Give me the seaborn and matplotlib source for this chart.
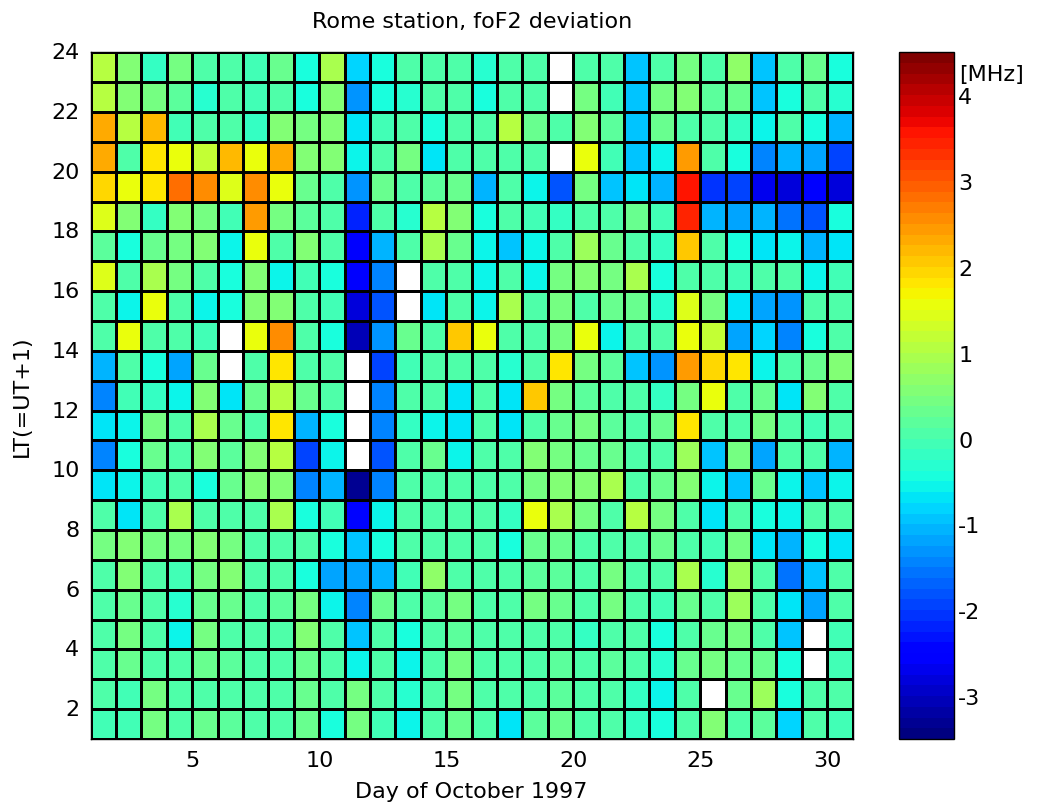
import numpy as np
import pandas as pd
import matplotlib
matplotlib.use("Agg")
import matplotlib.pyplot as plt
import seaborn as sns

nan = np.nan

# days (left edge of each cell) and local time rows, top row first
days = list(range(1, 31))
lt_hours = list(range(23, 0, -1))

x_ticks = [5, 10, 15, 20, 25, 30]
y_ticks = [2, 4, 6, 8, 10, 12, 14, 16, 18, 20, 22, 24]
cbar_ticks = [-3, -2, -1, 0, 1, 2, 3, 4]

# foF2 deviation [MHz], one list per LT hour (days 1..30), nan = missing
lt23 = [1.0, 0.5, -0.2, 0.4, 0.0, 0.0, -0.1, 0.3, -0.5, 0.9, -0.8, -0.5, 0.0, 0.0, 0.0, -0.3, 0.0, 0.0, nan, 0.1, 0.0, -0.9, 0.0, 0.4, 0.1, 0.7, -0.9, 0.0, 0.3, -0.5]
lt22 = [1.0, 0.5, 0.4, 0.2, -0.3, 0.0, -0.1, 0.0, -0.5, 0.6, -1.3, -0.5, -0.3, 0.0, 0.0, -0.5, 0.0, 0.1, nan, 0.4, -0.1, -1.0, 0.4, 0.6, 0.2, 0.3, -0.9, -0.5, 0.0, -0.3]
lt21 = [2.3, 1.0, 2.2, -0.1, 0.1, 0.0, -0.2, 0.5, 0.4, 0.5, -0.7, -0.1, 0.0, -0.5, 0.1, 0.0, 1.0, 0.3, 0.0, 0.5, 0.2, -1.0, 0.3, 0.0, 0.1, -0.2, -0.6, 0.0, -0.4, -1.1]
lt20 = [2.3, 0.0, 1.8, 1.6, 1.2, 2.2, 1.6, 2.3, 0.5, 0.5, -0.6, 0.0, 0.4, -0.7, 0.1, 0.0, 0.0, 0.0, nan, 1.6, -0.1, -1.0, -0.6, 2.4, 0.0, -0.5, -1.4, -1.1, -1.2, -1.9]
lt19 = [1.9, 1.5, 1.8, 2.8, 2.5, 1.4, 2.5, 1.5, 0.3, 0.1, -1.3, 0.3, 0.1, 0.2, 0.3, -1.1, 0.0, -0.6, -1.8, 0.4, -0.9, -0.7, -1.1, 3.6, -2.1, -2.0, -2.7, -2.8, -2.6, -2.8]
lt18 = [1.4, 0.5, -0.2, 0.6, 0.4, -0.1, 2.4, 0.4, 0.2, 0.1, -2.2, 0.1, -0.3, 1.0, 0.6, -0.4, 0.0, -0.1, -0.2, 0.1, 0.1, 0.3, -0.1, 3.4, -1.1, -1.2, -1.1, -1.6, -1.8, -0.5]
lt17 = [0.2, -0.5, 0.3, 0.4, 0.5, -0.6, 1.6, 0.1, 0.5, 0.1, -2.6, -1.1, 0.0, 0.9, 0.3, -0.6, -0.9, -0.6, 0.1, 0.8, 0.3, 0.1, -0.2, 2.0, 0.0, -0.5, -0.7, -0.6, -1.1, -0.7]
lt16 = [1.4, 0.0, 0.9, 0.4, 0.0, -0.5, 0.6, -0.6, -0.1, -0.4, -2.6, -1.5, nan, 0.1, 0.0, -0.6, 0.0, -0.6, 0.4, 0.6, 0.4, 0.9, -0.5, 0.1, 0.0, -0.1, 0.0, 0.1, -0.6, -0.1]
lt15 = [0.0, -0.6, 1.5, 0.1, -0.6, -0.4, 0.5, 0.5, 0.0, -0.1, -2.8, -1.8, nan, -0.7, 0.1, -0.6, 0.9, 0.1, 0.4, 0.1, 0.3, 0.3, -0.3, 1.4, 0.4, -0.7, -1.2, -1.3, 0.0, 0.0]
lt14 = [0.0, 1.5, 0.1, 0.0, -0.1, nan, 1.5, 2.6, 0.0, -0.5, -3.1, -1.3, 0.3, 0.0, 2.0, 1.5, 0.1, 0.0, 0.4, 1.5, -0.6, 0.0, 0.0, 1.5, 1.2, -1.2, -0.8, -1.5, -0.5, 0.1]
lt13 = [-1.1, 0.0, -0.4, -1.2, 0.3, nan, 0.1, 1.8, 0.1, 0.0, nan, -2.0, -0.1, 0.0, 0.0, 0.0, -0.3, 0.1, 1.8, 0.4, 0.2, -0.9, -1.3, 2.4, 1.9, 1.8, -0.6, 0.0, 0.3, 0.5]
lt12 = [-1.4, -0.1, -0.2, -0.6, 0.5, -0.7, 0.3, 1.0, 0.3, 0.1, nan, -1.4, 0.0, 0.0, -0.7, 0.0, -0.7, 2.0, 0.4, 0.2, 0.1, 0.0, -0.2, 0.4, 1.5, 0.1, 0.3, -0.7, 0.5, 0.1]
lt11 = [-0.7, -0.6, 0.4, 0.0, 0.9, 0.3, 0.1, 1.8, -1.1, -0.5, nan, -1.4, -0.2, -0.6, -0.7, 0.1, -0.7, 0.1, 0.3, 0.4, 0.2, 0.1, 0.3, 1.8, 0.1, 0.0, 0.4, 0.0, -0.1, 0.0]
lt10 = [-1.5, -0.4, 0.3, 0.1, 0.5, 0.2, 0.6, 1.0, -2.0, -0.6, nan, -1.8, 0.0, 0.3, -0.6, 0.1, 0.1, 0.5, 0.4, 0.3, 0.3, 0.1, 0.1, 0.8, -1.0, 0.4, -1.2, 0.0, 0.0, -1.1]
lt09 = [-0.7, -0.6, -0.1, 0.0, -0.5, 0.3, 0.5, 0.6, -1.4, -1.1, -3.3, -1.4, 0.0, 0.0, 0.0, 0.0, 0.0, 0.4, 0.5, 0.5, 0.9, 0.1, 0.3, 0.6, -0.6, -1.0, 0.3, -0.6, -0.9, -0.6]
lt08 = [0.0, -0.7, 0.1, 0.9, 0.0, 0.1, 0.0, 0.9, -0.5, -0.1, -2.4, -0.6, 0.1, 0.1, 0.0, 0.1, -0.2, 1.5, 0.9, 0.4, 0.1, 1.0, 0.4, 0.1, -0.7, 0.0, -0.5, -0.6, 0.1, 0.0]
lt07 = [0.4, 0.5, 0.4, 0.4, 0.6, 0.4, 0.1, 0.1, 0.0, -0.5, -1.0, -0.4, 0.0, 0.1, 0.1, 0.1, -0.5, 0.3, 0.3, 0.0, 0.1, 0.1, 0.3, 0.1, -0.1, 0.4, -0.7, -1.1, -0.5, -0.7]
lt06 = [0.1, 0.6, 0.1, -0.1, 0.4, 0.5, 0.1, 0.1, -0.5, -1.2, -1.2, -1.1, -0.1, 0.7, 0.1, 0.0, 0.0, 0.2, 0.2, 0.0, 0.4, 0.1, 0.0, 0.9, -0.3, 0.8, 0.0, -1.6, -1.0, 0.0]
lt05 = [0.0, 0.3, 0.1, -0.3, 0.3, 0.3, 0.1, 0.2, 0.4, -0.6, -1.5, 0.3, 0.0, 0.2, 0.4, 0.1, 0.0, 0.4, 0.3, 0.1, 0.4, 0.1, -0.1, 0.3, 0.1, 0.8, 0.0, -0.7, -1.2, 0.0]
lt04 = [0.1, 0.4, 0.1, -0.6, 0.4, 0.1, 0.1, 0.1, 0.6, 0.1, -0.9, 0.1, -0.5, 0.1, 0.2, 0.0, 0.1, 0.1, 0.1, -0.2, 0.0, 0.0, -0.4, 0.1, 0.3, 0.4, 0.1, -1.0, nan, -0.1]
lt03 = [0.1, 0.3, 0.1, 0.0, 0.3, 0.2, 0.0, 0.1, 0.3, 0.0, -0.6, 0.1, -0.6, 0.1, 0.4, 0.1, 0.0, 0.1, 0.2, 0.0, 0.2, 0.1, -0.3, 0.3, 0.4, 0.3, 0.3, -0.5, nan, -0.1]
lt02 = [0.0, -0.1, 0.4, 0.0, 0.1, 0.1, 0.0, 0.1, 0.3, 0.0, 0.4, 0.0, -0.3, 0.1, 0.4, 0.1, 0.0, 0.1, 0.2, 0.0, 0.0, -0.2, -0.6, 0.1, nan, 0.3, 0.8, -0.5, 0.0, 0.0]
lt01 = [-0.1, -0.1, 0.4, 0.0, 0.3, 0.2, 0.0, 0.0, 0.3, -0.5, 0.4, -0.1, -0.6, 0.1, 0.3, 0.1, -0.7, 0.2, 0.3, 0.0, 0.0, -0.2, -0.5, 0.1, 0.6, 0.1, 0.2, -0.8, 0.0, -0.1]

rows = [lt23, lt22, lt21, lt20, lt19, lt18, lt17, lt16, lt15, lt14, lt13, lt12,
        lt11, lt10, lt09, lt08, lt07, lt06, lt05, lt04, lt03, lt02, lt01]
df = pd.DataFrame(rows, index=lt_hours, columns=days)

sns.set_style("white")
plt.rcParams["font.family"] = ["DejaVu Sans"]
plt.rcParams["axes.unicode_minus"] = False
plt.rcParams["text.color"] = "black"
plt.rcParams["axes.labelcolor"] = "black"
fs = 16

fig = plt.figure(figsize=(10.64, 8.12), dpi=100)
ax = fig.add_axes([0.0852, 0.0887, 0.7162, 0.8457])
cax = fig.add_axes([0.845, 0.0887, 0.0517, 0.8457])

sns.heatmap(df, ax=ax, cbar_ax=cax, cmap=plt.get_cmap("jet", 64),
            vmin=-3.5, vmax=4.5, linewidths=1.0, linecolor="black")

# axis ticks on the cell edges (pcolor style)
ax.set_xticks([d - 1 for d in x_ticks])
ax.set_xticklabels(x_ticks, rotation=0)
ax.set_yticks([24 - v for v in y_ticks])
ax.set_yticklabels(y_ticks, rotation=0)
ax.tick_params(direction="in", length=5, labelsize=fs, colors="black", pad=8)
for sp in ax.spines.values():
    sp.set_visible(True)
    sp.set_color("black")
    sp.set_linewidth(1)

ax.set_title("Rome station, foF2 deviation", fontsize=fs, pad=18, color="black")
ax.set_xlabel("Day of October 1997", fontsize=fs, labelpad=8)
ax.set_ylabel("LT(=UT+1)", fontsize=fs, labelpad=14)

cb = ax.collections[0].colorbar
cb.set_ticks(cbar_ticks)
cb.outline.set_visible(True)
cb.outline.set_linewidth(1)
cb.outline.set_edgecolor("black")
cax.tick_params(direction="in", left=True, right=True, length=6,
                labelsize=fs, pad=3, colors="black")
fig.text(0.932, 0.908, "[MHz]", fontsize=fs, ha="center", va="center")

fig.savefig("out.png", dpi=100)
